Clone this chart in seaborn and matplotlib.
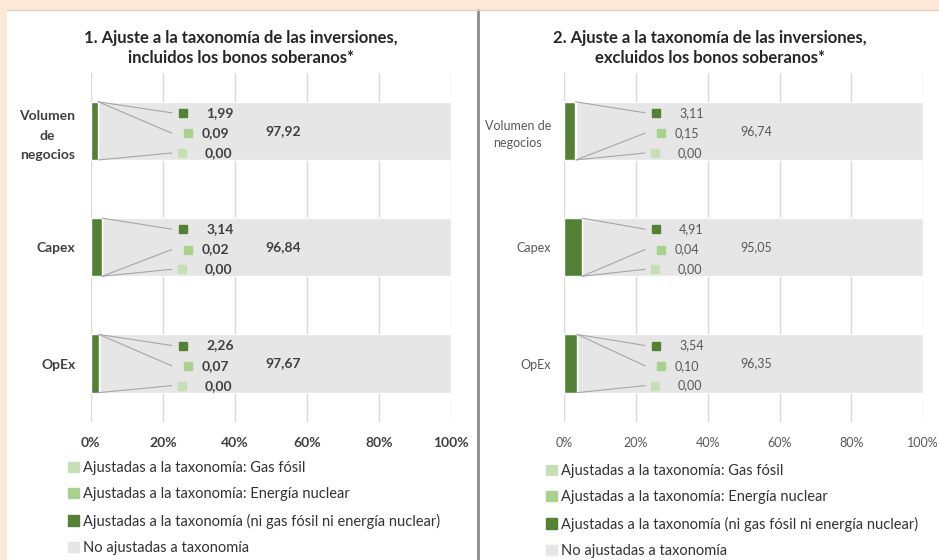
import matplotlib.pyplot as plt
import matplotlib.patches as mpatches
import pandas as pd
import seaborn as sns

# Data
categories = ["Volumen de negocios", "Capex", "OpEx"]
labels_left = ["Volumen\nde\nnegocios", "Capex", "OpEx"]
labels_right = ["Volumen de\nnegocios", "Capex", "OpEx"]

# 1. incluidos los bonos soberanos
p1_otras = [1.99, 3.14, 2.26]
p1_nuclear = [0.09, 0.02, 0.07]
p1_gas = [0.00, 0.00, 0.00]
p1_no = [97.92, 96.84, 97.67]

# 2. excluidos los bonos soberanos
p2_otras = [3.11, 4.91, 3.54]
p2_nuclear = [0.15, 0.04, 0.10]
p2_gas = [0.00, 0.00, 0.00]
p2_no = [96.74, 95.05, 96.35]

series_names = [
    "Ajustadas a la taxonomía: Gas fósil",
    "Ajustadas a la taxonomía: Energía nuclear",
    "Ajustadas a la taxonomía (ni gas fósil ni energía nuclear)",
    "No ajustadas a taxonomía",
]
xticks = [0, 20, 40, 60, 80, 100]

DARK = "#548235"
NUC = "#A9D18E"
GAS = "#C5E0B4"
GRAY = "#E7E6E6"
BEIGE = "#FCE8D6"

sns.set_style("white")
plt.rcParams["font.family"] = ["Lato", "DejaVu Sans"]

fig = plt.figure(figsize=(9.39, 5.6), dpi=100)
fig.patch.set_facecolor(BEIGE)

# white panels + separator
W, H = 939, 560
fig.add_artist(mpatches.Rectangle((7 / W, 0), (478 - 7) / W, 1 - 10 / H,
                                  transform=fig.transFigure, color="white", zorder=-5))
fig.add_artist(mpatches.Rectangle((479 / W, 0), 1, 1 - 10 / H,
                                  transform=fig.transFigure, color="white", zorder=-5))
fig.add_artist(plt.Line2D([478 / W, 478 / W], [0, 1 - 10 / H], transform=fig.transFigure,
                          color="#8C8C8C", lw=2, zorder=-4))
fig.add_artist(plt.Line2D([7 / W, 1], [1 - 10 / H, 1 - 10 / H], transform=fig.transFigure,
                          color="#E0CDBB", lw=1, zorder=-4))


def draw_panel(ax, otras, nuclear, gas, no, ylabels, weight, fs, tcolor, nuc_side,
               ypad, lsp):
    df = pd.DataFrame({"cat": categories, "otras": otras, "nuclear": nuclear,
                       "gas": gas, "no": no})
    df["c_otras"] = df["otras"]
    df["c_nuc"] = df["c_otras"] + df["nuclear"]
    df["c_gas"] = df["c_nuc"] + df["gas"]
    df["c_tot"] = df["c_gas"] + df["no"]

    # stacked bars, drawn largest first
    for col, color in [("c_tot", GRAY), ("c_gas", GAS), ("c_nuc", NUC), ("c_otras", DARK)]:
        sns.barplot(data=df, x=col, y="cat", color=color, width=0.5, saturation=1,
                    errorbar=None, ax=ax, zorder=2)

    # data labels with leader lines
    lab_dy = [-0.155, 0.02, 0.19]
    sq_x = [25.5, 27.0, 25.3]
    txt_x = [32.0, 30.7, 31.6]
    sq_col = [DARK, NUC, GAS]
    for i in range(len(categories)):
        vals = [df["otras"][i], df["nuclear"][i], df["gas"][i]]
        ends = [df["c_otras"][i], df["c_nuc"][i], df["c_gas"][i]]
        sides = [-1, nuc_side[i], 1]
        for k in range(3):
            ly = i + lab_dy[k]
            ax.plot([ends[k], 22.5], [i + 0.25 * sides[k], ly], color="#A6A6A6",
                    lw=0.8, zorder=3)
            ax.plot(sq_x[k], ly, marker="s", ms=6, color=sq_col[k], ls="", zorder=4)
            ax.text(txt_x[k], ly, f"{vals[k]:.2f}".replace(".", ","), va="center",
                    ha="left", fontsize=fs, fontweight=weight, color=tcolor, zorder=4)
        ax.text(53.5, i, f"{df['no'][i]:.2f}".replace(".", ","), va="center",
                ha="center", fontsize=fs, fontweight=weight, color=tcolor, zorder=4)

    ax.set_xlim(0, 100)
    ax.set_ylim(len(categories) - 0.5, -0.5)
    ax.set_xticks(xticks)
    ax.set_xticklabels([f"{t}%" for t in xticks], fontsize=fs, fontweight=weight,
                       color=tcolor)
    ax.set_yticks(range(len(categories)))
    ax.set_yticklabels(ylabels, fontsize=fs, fontweight=weight, color=tcolor)
    for t in ax.get_yticklabels():
        t.set_multialignment("center")
        t.set_linespacing(lsp)
    ax.tick_params(axis="both", length=0)
    ax.tick_params(axis="x", pad=11)
    ax.tick_params(axis="y", pad=ypad)
    ax.set_xlabel("")
    ax.set_ylabel("")
    ax.grid(axis="x", color="#D9D9D9", lw=1)
    ax.set_axisbelow(True)
    for s in ax.spines.values():
        s.set_visible(False)
    ax.set_facecolor("none")


ax1 = fig.add_axes([90.7 / W, 1 - 421.7 / H, 360.6 / W, 349 / H])
ax2 = fig.add_axes([564.3 / W, 1 - 421.7 / H, 358.7 / W, 349 / H])

draw_panel(ax1, p1_otras, p1_nuclear, p1_gas, p1_no, labels_left, "bold", 10,
           "#404040", [-1, 1, -1], 11, 1.75)
draw_panel(ax2, p2_otras, p2_nuclear, p2_gas, p2_no, labels_right, "normal", 9,
           "#595959", [1, 1, -1], 9.5, 1.55)

fig.text(241 / W, 1 - 48 / H,
         "1. Ajuste a la taxonomía de las inversiones,\nincluidos los bonos soberanos*",
         ha="center", va="center", fontsize=12, fontweight="bold", color="#262626",
         linespacing=1.25)
fig.text(710 / W, 1 - 48 / H,
         "2. Ajuste a la taxonomía de las inversiones,\nexcluidos los bonos soberanos*",
         ha="center", va="center", fontsize=12, fontweight="bold", color="#262626",
         linespacing=1.25)

# legends
handles = [mpatches.Patch(color=c) for c in [GAS, NUC, DARK, GRAY]]
for x0, y0 in [(68, 461), (546, 464)]:
    fig.legend(handles, series_names, loc="upper left",
               bbox_to_anchor=(x0 / W, 1 - y0 / H), bbox_transform=fig.transFigure,
               frameon=False, fontsize=10.5, handlelength=0.72, handleheight=0.72,
               handletextpad=0.3, labelspacing=0.84, borderpad=0, borderaxespad=0,
               labelcolor="#333333")

fig.savefig("out.png", dpi=100, facecolor=fig.get_facecolor())
